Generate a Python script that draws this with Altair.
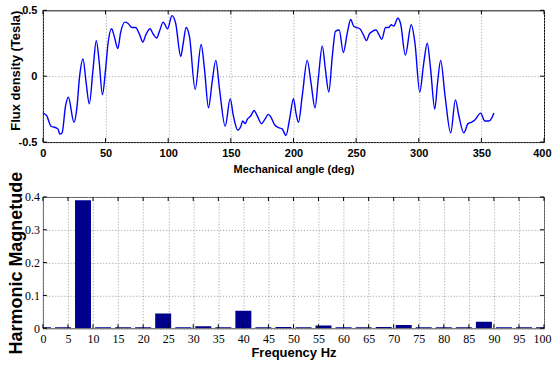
import altair as alt
import pandas as pd

# ---- data ----
angle_deg = [0, 3, 6.5, 10, 12, 13.5, 15.3, 18, 20.3, 24.8, 27, 29.3, 32, 34.5, 37, 40, 42.6, 45, 47.5,
             50, 52, 54.8, 57, 59.8, 62, 65.5, 68, 71, 74, 77, 79.8, 82, 85.5, 88, 90.8, 93, 96, 99.5,
             103, 106, 110, 112, 114.3, 117, 121.5, 126.3, 129, 132.2, 135, 138, 141, 145.5, 149.5,
             152, 155.6, 158, 159.5, 161.5, 163, 166, 168.6, 171, 174.6, 177, 180, 182, 185, 188, 191,
             194, 197, 200, 202, 204, 207, 211, 214, 217.2, 220, 223, 225.5, 228.2, 231, 233.5, 236.5,
             239.8, 243, 245.7, 248, 250, 253, 255.5, 258.3, 260.5, 263, 266, 268, 270.5, 273.5, 276,
             278, 280, 283.3, 285.5, 289.3, 294, 297, 300.8, 304, 306.8, 309.5, 312.8, 315, 317.5, 321,
             325.5, 329.3, 332, 336, 339.3, 342, 345, 349.4, 352.7, 356, 357.5, 360]
flux_t = [-0.28, -0.30, -0.38, -0.39, -0.40, -0.44, -0.43, -0.23, -0.16, -0.35, -0.25, 0.0, 0.13, -0.05,
          -0.21, 0.05, 0.27, 0.10, -0.14, 0.05, 0.25, 0.36, 0.30, 0.21, 0.33, 0.41, 0.40, 0.37, 0.37,
          0.32, 0.26, 0.31, 0.36, 0.32, 0.29, 0.34, 0.41, 0.36, 0.46, 0.40, 0.15, 0.25, 0.37, 0.30,
          -0.10, 0.24, 0.05, -0.24, -0.05, 0.12, -0.10, -0.38, -0.17, -0.30, -0.41, -0.38, -0.34,
          -0.36, -0.33, -0.30, -0.26, -0.30, -0.36, -0.33, -0.29, -0.31, -0.37, -0.39, -0.40, -0.45,
          -0.32, -0.17, -0.28, -0.35, -0.15, 0.12, -0.05, -0.24, 0.0, 0.23, 0.05, -0.12, 0.15, 0.34,
          0.35, 0.18, 0.33, 0.43, 0.38, 0.37, 0.36, 0.32, 0.27, 0.32, 0.34, 0.35, 0.32, 0.28, 0.37,
          0.37, 0.39, 0.38, 0.44, 0.40, 0.16, 0.39, 0.25, -0.12, 0.10, 0.25, 0.05, -0.25, -0.05, 0.12,
          -0.15, -0.43, -0.18, -0.30, -0.43, -0.36, -0.35, -0.33, -0.28, -0.34, -0.34, -0.33, -0.28]

freq_hz = [0, 4, 8, 12, 16, 20, 24, 28, 32, 36, 40, 44, 48, 52, 56, 60, 64, 68, 72, 76, 80, 84, 88, 92, 96, 100]
harm_mag = [0.003, 0.003, 0.39, 0.003, 0.003, 0.003, 0.045, 0.003, 0.006, 0.003, 0.053, 0.003, 0.004,
            0.003, 0.008, 0.003, 0.003, 0.004, 0.01, 0.003, 0.003, 0.003, 0.02, 0.003, 0.003, 0.003]

angle_ticks = [0, 50, 100, 150, 200, 250, 300, 350, 400]
flux_ticks = [-0.5, 0, 0.5]
freq_ticks = [0, 5, 10, 15, 20, 25, 30, 35, 40, 45, 50, 55, 60, 65, 70, 75, 80, 85, 90, 95, 100]
mag_ticks = [0, 0.1, 0.2, 0.3, 0.4]

SANS = "Liberation Sans, Arial, sans-serif"
SERIF = "Liberation Serif, Times New Roman, serif"

W1, H1 = 502, 132
W2, H2 = 502, 131.5
TK = 4

wave = pd.DataFrame({"angle": angle_deg, "flux": flux_t})
spec = pd.DataFrame({"freq": freq_hz, "mag": harm_mag})
ax_t = pd.DataFrame({"angle": angle_ticks})
fl_t = pd.DataFrame({"flux": flux_ticks})
fr_t = pd.DataFrame({"freq": freq_ticks})
mg_t = pd.DataFrame({"mag": mag_ticks})
anchor = pd.DataFrame({"k": [0]})

grid_kw = dict(grid=True, gridDash=[1, 2], gridColor="#9a9a9a", gridWidth=1, ticks=False, domain=False)

lbl = "datum.value == 0 ? '0' : (datum.value < 0 ? '-' + format(-datum.value, '.1f') : format(datum.value, '.1f'))"

# ---------- top panel ----------
xs1 = alt.Scale(domain=[0, 400], nice=False, padding=0)
ys1 = alt.Scale(domain=[-0.5, 0.5], nice=False, padding=0)

X1 = alt.X("angle:Q", scale=xs1,
           axis=alt.Axis(values=angle_ticks, labelFont=SANS, labelFontWeight="bold", labelFontSize=11,
                         labelPadding=5,
                         labelAlign={"condition": {"test": "datum.value >= 400", "value": "right"}, "value": "center"},
                         labelOffset={"condition": {"test": "datum.value >= 400", "value": 7}, "value": 0},
                         title="Mechanical angle (deg)", titleFont=SANS,
                         titleFontSize=11, titleFontWeight="bold", titlePadding=5, **grid_kw))
Y1 = alt.Y("flux:Q", scale=ys1,
           axis=alt.Axis(values=flux_ticks, labelExpr=lbl, labelFont=SANS, labelFontWeight="bold",
                         labelFontSize=11, labelPadding=6, title="Flux density (Tesla)",
                         titleFont=SANS, titleFontSize=13, titleFontWeight="bold",
                         titleX=-27.5, titleY=60, titleBaseline="middle", **grid_kw))

line = alt.Chart(wave).mark_line(color="#0000ff", strokeWidth=1.4, interpolate="monotone").encode(x=X1, y=Y1)


def xticks(df, X, h):
    a = alt.Chart(df).mark_rule(color="black", strokeWidth=1).encode(x=X, y=alt.value(0), y2=alt.value(TK))
    b = alt.Chart(df).mark_rule(color="black", strokeWidth=1).encode(x=X, y=alt.value(h), y2=alt.value(h - TK))
    return [a, b]


def yticks(df, Y, w):
    a = alt.Chart(df).mark_rule(color="black", strokeWidth=1).encode(y=Y, x=alt.value(0), x2=alt.value(TK))
    b = alt.Chart(df).mark_rule(color="black", strokeWidth=1).encode(y=Y, x=alt.value(w), x2=alt.value(w - TK))
    return [a, b]


# invisible anchor fixing the top-left corner of the whole picture
corner = alt.Chart(anchor).mark_rule(opacity=0, strokeWidth=0.01).encode(
    x=alt.value(-42.5), x2=alt.value(-42.5), y=alt.value(-9.5), y2=alt.value(0))

top = alt.layer(line, *xticks(ax_t, X1, H1), *yticks(fl_t, Y1, W1), corner).properties(
    width=W1, height=H1, view=alt.ViewBackground(stroke="black", strokeWidth=1))

# ---------- bottom panel ----------
xs2 = alt.Scale(domain=[0, 100], nice=False, padding=0)
ys2 = alt.Scale(domain=[0, 0.4], nice=False, padding=0)

X2 = alt.X("freq:Q", scale=xs2,
           axis=alt.Axis(values=freq_ticks, labelFont=SERIF, labelFontSize=12, labelPadding=5,
                         labelAlign={"condition": {"test": "datum.value >= 100", "value": "right"}, "value": "center"},
                         labelOffset={"condition": {"test": "datum.value >= 100", "value": 7}, "value": 0},
                         title="Frequency Hz", titleFont=SANS, titleFontSize=13,
                         titleFontWeight="bold", titlePadding=2, **grid_kw))
Y2 = alt.Y("mag:Q", scale=ys2,
           axis=alt.Axis(values=mag_ticks, labelExpr=lbl, labelFont=SERIF, labelFontSize=12,
                         labelPadding=3.5, title="Harmonic Magnetude", titleFont=SANS,
                         titleFontSize=18, titleFontWeight="bold", titleX=-26,
                         titleBaseline="middle", **grid_kw))

bars = alt.Chart(spec).mark_bar(color="#00008b", size=16, clip=True).encode(x=X2, y=Y2)

bottom = alt.layer(bars, *xticks(fr_t, X2, H2), *yticks(mg_t, Y2, W2)).properties(
    width=W2, height=H2, view=alt.ViewBackground(stroke="#555555", strokeWidth=1))

chart = alt.vconcat(top, bottom, spacing=55, bounds="flush").properties(
    padding={"left": 0, "top": 0, "right": 0, "bottom": 0},
    background="white",
).configure_axis(labelColor="black", titleColor="black")

chart.save("out.html", embed_options={"renderer": "svg", "actions": False})
